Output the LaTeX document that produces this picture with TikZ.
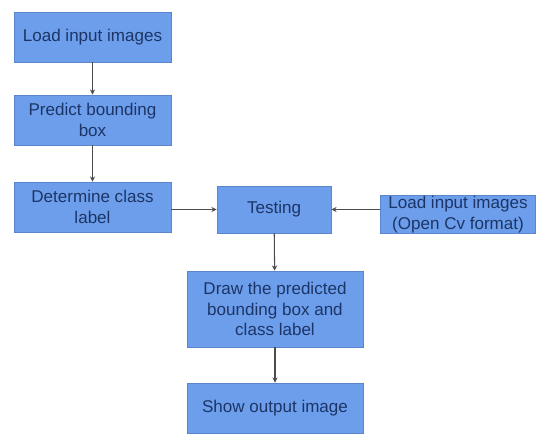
\documentclass[tikz,border=0pt]{standalone}
\usepackage{fontspec}
\setmainfont{Liberation Sans}
\usepackage{xcolor}
\usetikzlibrary{positioning, arrows.meta}
\definecolor{boxblue}{HTML}{6D9EEB}
\definecolor{boxline}{HTML}{5A87CC}
\definecolor{boxtext}{HTML}{1C3566}
\tikzstyle{process} = [rectangle, minimum width=3.14cm, minimum height=1cm, text centered, align=center, fill=boxblue, draw=boxline, text=boxtext, font=\fontsize{9.7}{11.5}\selectfont]
\tikzstyle{arrow} = [semithick, draw=black!70, -{Stealth[length=3pt,width=3pt]}]

\begin{document}
\begin{tikzpicture}[x=0.02cm, y=-0.02cm]
		\useasboundingbox (0,0) rectangle (536,436);
		\node (load) [process] at (92.5,37) {Load input images};
		\node (predict) [process] at (92.5,120) {Predict bounding\\box};
		\node (determine) [process] at (92.5,207) {Determine class\\label};
		\node (testing) [process, minimum width=2.28cm, minimum height=0.94cm] at (274,209.5) {Testing};
		\node (loadcv) [process, minimum width=3.1cm, minimum height=0.76cm, inner ysep=0.5pt] at (458,214.5) {Load input images\\(Open Cv format)};
		\node (drawbox) [process, minimum width=3.52cm, minimum height=1.52cm] at (275,309) {Draw the predicted\\bounding box and\\class label};
		\node (show) [process, minimum width=3.52cm] at (275,408) {Show output image};
		\draw [arrow](load) -- (predict);
		\draw [arrow](predict) -- (determine);
		\draw [arrow](determine.east |- testing) -- (testing.west);
		\draw [arrow](loadcv.west |- testing) -- (testing.east);
		\draw [arrow](testing) -- (drawbox);
		\draw [arrow](drawbox) -- (show);
		
	\end{tikzpicture}
\end{document}
